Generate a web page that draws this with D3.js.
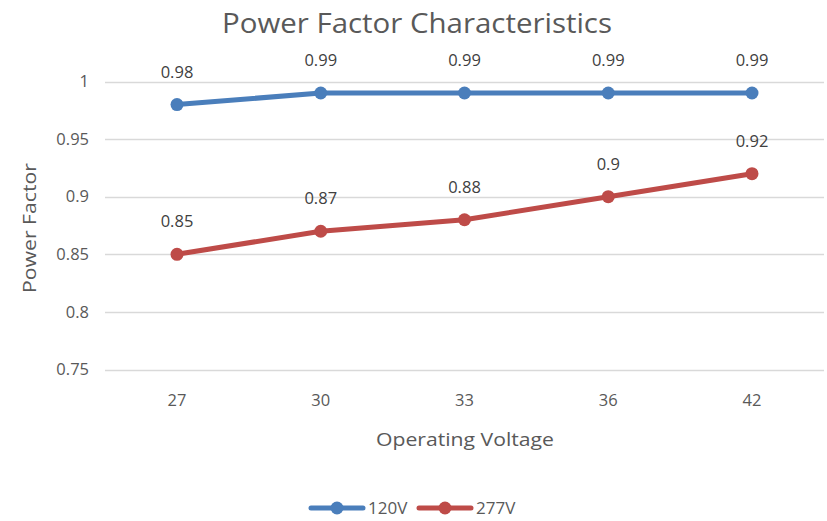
<!DOCTYPE html>
<html>
<head>
<meta charset="utf-8">
<script src="https://cdn.jsdelivr.net/npm/d3@7"></script>
<style>
  body { margin: 0; background: #fff; }
  svg text { font-family: "Open Sans", "DejaVu Sans", sans-serif; }
</style>
</head>
<body>
<div id="chart"></div>
<script>
// chart values
var voltages = ["27", "30", "33", "36", "42"];
var pf120 = [0.98, 0.99, 0.99, 0.99, 0.99];
var pf277 = [0.85, 0.87, 0.88, 0.9, 0.92];
var yTicks = [0.75, 0.8, 0.85, 0.9, 0.95, 1];
var seriesNames = ["120V", "277V"];
var seriesColors = ["#4a7ebb", "#be4b48"];

var width = 827, height = 521;

var svg = d3.select("#chart").append("svg")
    .attr("width", width)
    .attr("height", height);

var x = d3.scalePoint()
    .domain(voltages)
    .range([177, 752]);

var y = d3.scaleLinear()
    .domain([0.75, 1])
    .range([369.5, 81.5]);

// gridlines
svg.append("g")
    .selectAll("line")
    .data(yTicks)
  .enter().append("line")
    .attr("x1", 105)
    .attr("x2", 824)
    .attr("y1", function(d) { return Math.round(y(d)) + 0.5; })
    .attr("y2", function(d) { return Math.round(y(d)) + 0.5; })
    .attr("stroke", "#d9d9d9")
    .attr("stroke-width", 1.5);

// y tick labels
svg.append("g")
    .selectAll("text")
    .data(yTicks)
  .enter().append("text")
    .attr("x", 89)
    .attr("y", function(d) { return y(d); })
    .attr("dy", "0.35em")
    .attr("text-anchor", "end")
    .attr("fill", "#595959")
    .style("font-size", "16.5px")
    .text(function(d) { return d3.format("")(d); });

// x tick labels
svg.append("g")
    .selectAll("text")
    .data(voltages)
  .enter().append("text")
    .attr("x", function(d) { return x(d); })
    .attr("y", 400)
    .attr("dy", "0.35em")
    .attr("text-anchor", "middle")
    .attr("fill", "#595959")
    .style("font-size", "16.5px")
    .text(function(d) { return d; });

// titles
svg.append("text")
    .attr("x", 417)
    .attr("y", 33)
    .attr("text-anchor", "middle")
    .attr("fill", "#595959")
    .attr("textLength", 390)
    .attr("lengthAdjust", "spacingAndGlyphs")
    .style("font-size", "27px")
    .text("Power Factor Characteristics");

svg.append("text")
    .attr("x", 465)
    .attr("y", 446)
    .attr("text-anchor", "middle")
    .attr("fill", "#595959")
    .attr("textLength", 178)
    .attr("lengthAdjust", "spacingAndGlyphs")
    .style("font-size", "18px")
    .text("Operating Voltage");

svg.append("text")
    .attr("transform", "translate(36,228) rotate(-90)")
    .attr("text-anchor", "middle")
    .attr("fill", "#595959")
    .attr("textLength", 130)
    .attr("lengthAdjust", "spacingAndGlyphs")
    .style("font-size", "18px")
    .text("Power Factor");

// series
var series = [pf120, pf277];
var line = d3.line()
    .x(function(d, i) { return x(voltages[i]); })
    .y(function(d) { return y(d); });

series.forEach(function(vals, s) {
  var g = svg.append("g");
  g.append("path")
      .datum(vals)
      .attr("d", line)
      .attr("fill", "none")
      .attr("stroke", seriesColors[s])
      .attr("stroke-width", 5)
      .attr("stroke-linecap", "round")
      .attr("stroke-linejoin", "round");
  g.selectAll("circle")
      .data(vals)
    .enter().append("circle")
      .attr("cx", function(d, i) { return x(voltages[i]); })
      .attr("cy", function(d) { return y(d); })
      .attr("r", 6.5)
      .attr("fill", seriesColors[s]);
  g.selectAll("text")
      .data(vals)
    .enter().append("text")
      .attr("x", function(d, i) { return x(voltages[i]); })
      .attr("y", function(d) { return y(d) - 27; })
      .attr("text-anchor", "middle")
      .attr("fill", "#404040")
      .style("font-size", "16.5px")
      .text(function(d) { return d3.format("")(d); });
});

// legend
var legendX = [311, 419];
seriesNames.forEach(function(name, s) {
  var lg = svg.append("g").attr("transform", "translate(" + legendX[s] + ",508)");
  lg.append("line")
      .attr("x1", 0).attr("x2", 52)
      .attr("stroke", seriesColors[s])
      .attr("stroke-width", 5)
      .attr("stroke-linecap", "round");
  lg.append("circle")
      .attr("cx", 26)
      .attr("r", 6.5)
      .attr("fill", seriesColors[s]);
  lg.append("text")
      .attr("x", 57)
      .attr("dy", "0.35em")
      .attr("fill", "#595959")
      .style("font-size", "17px")
      .text(name);
});
</script>
</body>
</html>
